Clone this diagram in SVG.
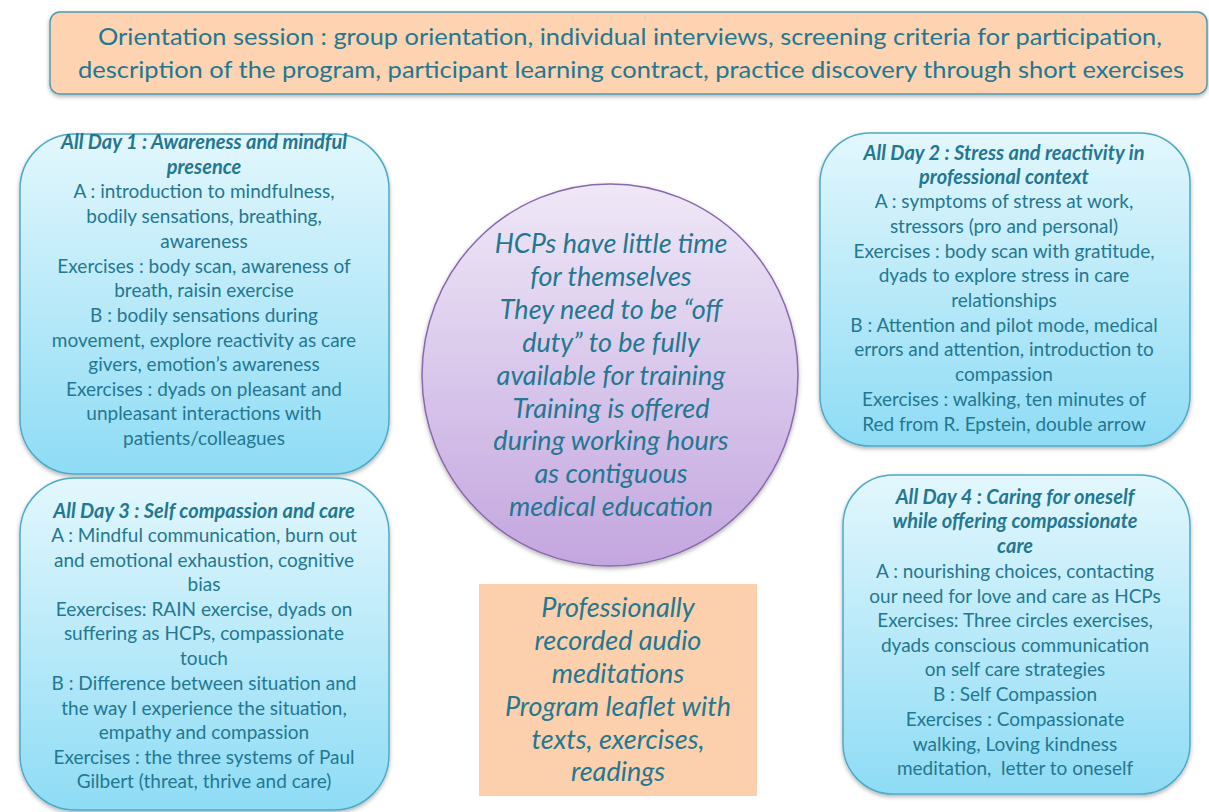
<svg xmlns="http://www.w3.org/2000/svg" width="1209" height="812" viewBox="0 0 1209 812">
<defs>
<linearGradient id="blueG" x1="0" y1="0" x2="0" y2="1">
<stop offset="0" stop-color="#e3f7fd"/>
<stop offset="1" stop-color="#8edcf5"/>
</linearGradient>
<linearGradient id="purpG" x1="0" y1="0" x2="0" y2="1">
<stop offset="0" stop-color="#efe8f7"/>
<stop offset="1" stop-color="#c3a6df"/>
</linearGradient>
<filter id="sh" x="-10%" y="-10%" width="120%" height="120%">
<feDropShadow dx="0" dy="2" stdDeviation="2" flood-color="#000" flood-opacity="0.3"/>
</filter>
</defs>
<style>
.blue{fill:url(#blueG);stroke:#4ea9c7;stroke-width:1.5;filter:url(#sh)}
.t{font-family:Lato,"Open Sans",sans-serif;fill:#247790;text-anchor:middle}
.b{font-size:19px}
.h{font-size:20px;font-weight:bold;font-style:italic}
.i{font-size:27px;font-style:italic}
.top{font-size:24px}
</style>
<rect width="1209" height="812" fill="#ffffff"/>
<g id="orientation">
<rect x="50" y="12" width="1157" height="82" rx="10" fill="#fdd3b2" stroke="#4f9ab0" stroke-width="1.5" filter="url(#sh)"/>
<text class="t top" x="630" y="45" textLength="1064" lengthAdjust="spacingAndGlyphs">Orientation session : group orientation, individual interviews, screening criteria for participation,</text>
<text class="t top" x="631" y="78" textLength="1106" lengthAdjust="spacingAndGlyphs">description of the program, participant learning contract, practice discovery through short exercises</text>
</g>
<g id="day1">
<rect class="blue" x="20" y="134" width="369" height="340" rx="55"/>
<text class="t h" x="204" y="149">All Day 1 : Awareness and mindful</text>
<text class="t h" x="204" y="174">presence</text>
<text class="t b" x="204" y="198">A : introduction to mindfulness,</text>
<text class="t b" x="204" y="223">bodily sensations, breathing,</text>
<text class="t b" x="204" y="248">awareness</text>
<text class="t b" x="204" y="273">Exercises : body scan, awareness of</text>
<text class="t b" x="204" y="297">breath, raisin exercise</text>
<text class="t b" x="204" y="322">B : bodily sensations during</text>
<text class="t b" x="204" y="347">movement, explore reactivity as care</text>
<text class="t b" x="204" y="371">givers, emotion’s awareness</text>
<text class="t b" x="204" y="396">Exercises : dyads on pleasant and</text>
<text class="t b" x="204" y="420">unpleasant interactions with</text>
<text class="t b" x="204" y="445">patients/colleagues</text>
</g>
<g id="day3">
<rect class="blue" x="20" y="478" width="369" height="332" rx="55"/>
<text class="t h" x="204" y="518">All Day 3 : Self compassion and care</text>
<text class="t b" x="204" y="542">A : Mindful communication, burn out</text>
<text class="t b" x="204" y="567">and emotional exhaustion, cognitive</text>
<text class="t b" x="204" y="591">bias</text>
<text class="t b" x="204" y="616">Eexercises: RAIN exercise, dyads on</text>
<text class="t b" x="204" y="640">suffering as HCPs, compassionate</text>
<text class="t b" x="204" y="665">touch</text>
<text class="t b" x="204" y="690">B : Difference between situation and</text>
<text class="t b" x="204" y="715">the way I experience the situation,</text>
<text class="t b" x="204" y="739">empathy and compassion</text>
<text class="t b" x="204" y="764">Exercises : the three systems of Paul</text>
<text class="t b" x="204" y="788">Gilbert (threat, thrive and care)</text>
</g>
<g id="day2">
<rect class="blue" x="820" y="133" width="370" height="313" rx="50"/>
<text class="t h" x="1004" y="160">All Day 2 : Stress and reactivity in</text>
<text class="t h" x="1004" y="184">professional context</text>
<text class="t b" x="1004" y="208">A : symptoms of stress at work,</text>
<text class="t b" x="1004" y="233">stressors (pro and personal)</text>
<text class="t b" x="1004" y="258">Exercises : body scan with gratitude,</text>
<text class="t b" x="1004" y="282">dyads to explore stress in care</text>
<text class="t b" x="1004" y="307">relationships</text>
<text class="t b" x="1004" y="332">B : Attention and pilot mode, medical</text>
<text class="t b" x="1004" y="356">errors and attention, introduction to</text>
<text class="t b" x="1004" y="381">compassion</text>
<text class="t b" x="1004" y="406">Exercises : walking, ten minutes of</text>
<text class="t b" x="1004" y="431">Red from R. Epstein, double arrow</text>
</g>
<g id="day4">
<rect class="blue" x="843" y="475" width="347" height="319" rx="50"/>
<text class="t h" x="1015" y="504">All Day 4 : Caring for oneself</text>
<text class="t h" x="1015" y="528">while offering compassionate</text>
<text class="t h" x="1015" y="553">care</text>
<text class="t b" x="1015" y="578">A : nourishing choices, contacting</text>
<text class="t b" x="1015" y="603">our need for love and care as HCPs</text>
<text class="t b" x="1015" y="627">Exercises: Three circles exercises,</text>
<text class="t b" x="1015" y="652">dyads conscious communication</text>
<text class="t b" x="1015" y="676">on self care strategies</text>
<text class="t b" x="1015" y="701">B : Self Compassion</text>
<text class="t b" x="1015" y="726">Exercises : Compassionate</text>
<text class="t b" x="1015" y="751">walking, Loving kindness</text>
<text class="t b" x="1015" y="775" xml:space="preserve" style="white-space:pre">meditation,  letter to oneself</text>
</g>
<g id="center">
<ellipse cx="610" cy="375" rx="188" ry="191" fill="url(#purpG)" stroke="#8a68ad" stroke-width="1.5" filter="url(#sh)"/>
<text class="t i" x="611" y="253">HCPs have little time</text>
<text class="t i" x="611" y="286">for themselves</text>
<text class="t i" x="611" y="319">They need to be “off</text>
<text class="t i" x="611" y="352">duty” to be fully</text>
<text class="t i" x="611" y="385">available for training</text>
<text class="t i" x="611" y="418">Training is offered</text>
<text class="t i" x="611" y="450">during working hours</text>
<text class="t i" x="611" y="483">as contiguous</text>
<text class="t i" x="611" y="516">medical education</text>
</g>
<g id="resources">
<rect x="479" y="584" width="278" height="212" fill="#fdd0ad"/>
<text class="t i" x="618" y="617">Professionally</text>
<text class="t i" x="618" y="650">recorded audio</text>
<text class="t i" x="618" y="683">meditations</text>
<text class="t i" x="618" y="716">Program leaflet with</text>
<text class="t i" x="618" y="749">texts, exercises,</text>
<text class="t i" x="618" y="781">readings</text>
</g>
<g id="connectors"></g>
</svg>
